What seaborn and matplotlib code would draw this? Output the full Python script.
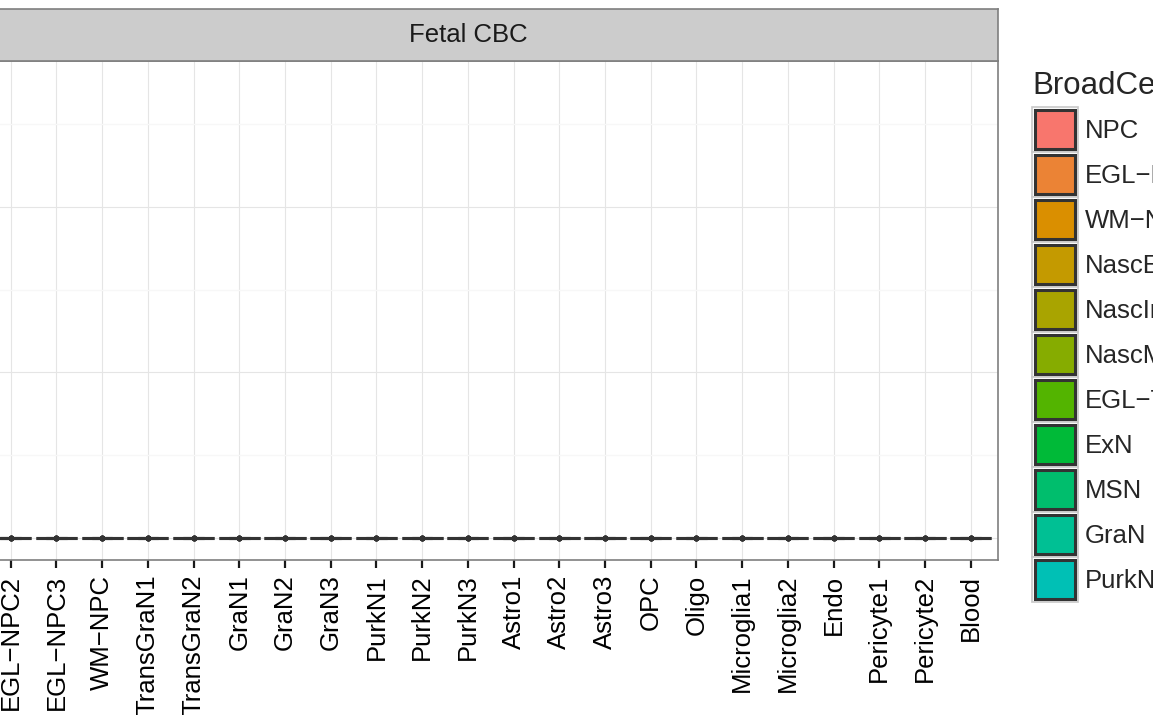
import numpy as np
import pandas as pd
import matplotlib
matplotlib.use("Agg")
import matplotlib.pyplot as plt
import seaborn as sns
from matplotlib.patches import Rectangle, Patch
from matplotlib.legend_handler import HandlerBase
from matplotlib.ticker import MultipleLocator

# ---------------- data ----------------
facet_title = "Fetal CBC"
categories = ["EGL−NPC1", "EGL−NPC2", "EGL−NPC3", "WM−NPC", "TransGraN1", "TransGraN2",
              "GraN1", "GraN2", "GraN3", "PurkN1", "PurkN2", "PurkN3",
              "Astro1", "Astro2", "Astro3", "OPC", "Oligo",
              "Microglia1", "Microglia2", "Endo", "Pericyte1", "Pericyte2", "Blood"]
category_broad = ["EGL−NPC", "EGL−NPC", "EGL−NPC", "WM−NPC", "EGL−TransGraN", "EGL−TransGraN",
                  "GraN", "GraN", "GraN", "PurkN", "PurkN", "PurkN",
                  "Astro", "Astro", "Astro", "OPC", "Oligo",
                  "Microglia", "Microglia", "Endo", "Pericyte", "Pericyte", "Blood"]
# every cluster shows a flat box at zero
cluster_values = [0.0, 0.0, 0.0, 0.0, 0.0]
legend_title = "BroadCellType"
broad_types = ["NPC", "EGL−NPC", "WM−NPC", "NascExN", "NascInN", "NascMSN",
               "EGL−TransGraN", "ExN", "MSN", "GraN", "PurkN",
               "InN", "Astro", "OPC", "Oligo", "Microglia", "Endo",
               "Pericyte", "VSMC", "Blood", "Ependymal"]
y_limits = (-0.133, 2.882)

# ggplot-like hue palette (HCL, l=65, c=100)
def hue_pal(n, l=65.0, c=100.0):
    hues = np.linspace(15, 375, n + 1)[:-1]
    Xn, Yn, Zn = 95.047, 100.0, 108.883
    un = 4 * Xn / (Xn + 15 * Yn + 3 * Zn)
    vn = 9 * Yn / (Xn + 15 * Yn + 3 * Zn)
    out = []
    for h in hues:
        u = c * np.cos(np.radians(h)); v = c * np.sin(np.radians(h))
        Y = Yn * ((l + 16) / 116) ** 3
        up = u / (13 * l) + un; vp = v / (13 * l) + vn
        X = Y * 9 * up / (4 * vp); Z = Y * (12 - 3 * up - 20 * vp) / (4 * vp)
        X, Y2, Z = X / 100, Y / 100, Z / 100
        r = 3.2404542 * X - 1.5371385 * Y2 - 0.4985314 * Z
        g = -0.9692660 * X + 1.8760108 * Y2 + 0.0415560 * Z
        b = 0.0556434 * X - 0.2040259 * Y2 + 1.0572252 * Z
        rgb = []
        for ch in (r, g, b):
            ch = 12.92 * ch if ch <= 0.0031308 else 1.055 * ch ** (1 / 2.4) - 0.055
            rgb.append(min(max(ch, 0), 1))
        out.append(tuple(rgb))
    return out

broad_colors = dict(zip(broad_types, hue_pal(len(broad_types))))

df = pd.DataFrame({
    "cluster": np.repeat(categories, len(cluster_values)),
    "value": np.tile(cluster_values, len(categories)),
})
cluster_palette = {cat: broad_colors[b] for cat, b in zip(categories, category_broad)}

# ---------------- figure ----------------
sns.set_theme(style="white")
plt.rcParams["font.family"] = ["Liberation Sans", "DejaVu Sans"]

W, H, DPI = 1153, 715, 100
fig = plt.figure(figsize=(W / DPI, H / DPI), dpi=DPI)

px_left, px_right, px_top, px_bottom = -62.4, 998.1, 61.0, 560.0
ax = fig.add_axes([px_left / W, 1 - px_bottom / H, (px_right - px_left) / W, (px_bottom - px_top) / H])

sns.boxplot(data=df, x="cluster", y="value", hue="cluster", palette=cluster_palette,
            order=categories, width=0.9, linewidth=2.2, linecolor="#333333",
            fliersize=0, legend=False, ax=ax, zorder=3)
sns.stripplot(data=df, x="cluster", y="value", order=categories, jitter=False,
              color="#333333", size=4.2, ax=ax, zorder=4)

ax.set_xlim(-0.6, len(categories) - 0.4)
ax.set_ylim(*y_limits)
ax.yaxis.set_major_locator(MultipleLocator(1.0))
ax.yaxis.set_minor_locator(MultipleLocator(0.5))
ax.set_axisbelow(True)
ax.grid(True, which="major", axis="both", color="#E5E5E5", linewidth=0.8)
ax.grid(True, which="minor", axis="y", color="#F7F7F7", linewidth=1.0)
ax.set_xlabel("")
ax.set_ylabel("")
for s in ax.spines.values():
    s.set_color("#7F7F7F")
    s.set_linewidth(1.2)
ax.tick_params(axis="x", which="major", bottom=True, length=5.5, width=1.6, color="#1A1A1A",
               labelsize=18.5, labelcolor="black", pad=5, labelrotation=90)
ax.tick_params(axis="y", which="both", left=False, labelleft=False)
for lab in ax.get_xticklabels():
    lab.set_ha("center"); lab.set_va("top")

# strip
sax = fig.add_axes([px_left / W, 1 - px_top / H, (px_right - px_left) / W, 52 / H])
sax.set_facecolor("#CCCCCC")
sax.set_xticks([]); sax.set_yticks([])
for s in sax.spines.values():
    s.set_color("#7F7F7F"); s.set_linewidth(1.2)
sax.text(0.5, 0.5, facet_title, ha="center", va="center", fontsize=18.5, color="#1A1A1A",
         transform=sax.transAxes)

# legend
class KeyHandler(HandlerBase):
    def create_artists(self, legend, orig_handle, xdescent, ydescent, width, height, fontsize, trans):
        shift = 0.9
        bg = Rectangle((-xdescent, -ydescent + shift), width, height, facecolor="white",
                       edgecolor="#C8C8C8", linewidth=1.2, transform=trans)
        p = 2.2
        fg = Rectangle((-xdescent + p, -ydescent + shift + p), width - 2 * p, height - 2 * p,
                       facecolor=orig_handle.get_facecolor(), edgecolor="#333333",
                       linewidth=2.2, transform=trans)
        return [bg, fg]

fs_pt = 18.5
fs_px = fs_pt * DPI / 72
key_h_px = 45.0
hh = (key_h_px / fs_px - 0.245) / 0.65
handles = [Patch(facecolor=broad_colors[b]) for b in broad_types]
leg = fig.legend(handles, broad_types, loc="upper left",
                 bbox_to_anchor=(1032 / W, 1 - 71 / H), bbox_transform=fig.transFigure,
                 ncol=2, frameon=False, borderpad=0, borderaxespad=0,
                 handlelength=46 / fs_px, handleheight=hh, labelspacing=0,
                 handletextpad=0.28, columnspacing=1.0, fontsize=fs_pt,
                 title=legend_title, title_fontsize=22.5, alignment="left",
                 handler_map={Patch: KeyHandler()})
leg._legend_box.sep = 5

fig.savefig("out.png", dpi=DPI)
